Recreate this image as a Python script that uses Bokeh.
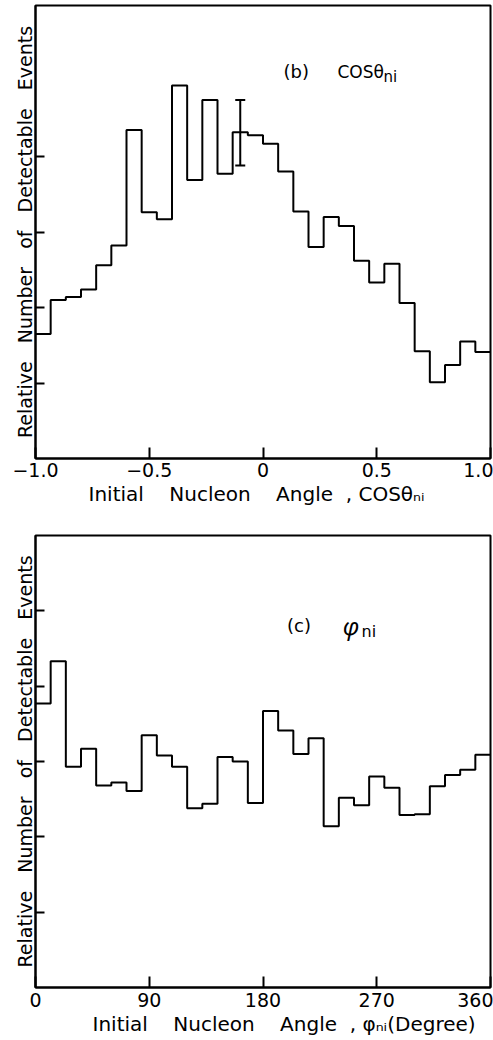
import numpy as np
from bokeh.plotting import figure
from bokeh.layouts import column
from bokeh.models import Range1d, FixedTicker, Label, Whisker, TeeHead, ColumnDataSource, Title
from bokeh.embed import file_html
from bokeh.resources import INLINE

# ---------------- data ----------------
# (b) cos(theta_ni): 30 bins from -1 to 1
cos_edges = np.linspace(-1.0, 1.0, 31)
cos_counts = [1.65, 2.10, 2.14, 2.24, 2.56, 2.82, 4.35, 3.26, 3.17, 4.94,
              3.69, 4.75, 3.77, 4.32, 4.28, 4.17, 3.80, 3.27, 2.80, 3.20,
              3.08, 2.62, 2.33, 2.58, 2.06, 1.42, 1.01, 1.24, 1.55, 1.41]
cos_err_x = [-0.1]
cos_err_lo = [3.88]
cos_err_hi = [4.75]
cos_ticks = [-1.0, -0.5, 0.0, 0.5, 1.0]
cos_tick_labels = ["\u22121.0", "\u22120.5", "0", "0.5", "1.0"]
cos_yticks = [1, 2, 3, 4]

# (c) phi_ni: 30 bins of 12 degrees from 0 to 360
phi_edges = np.linspace(0.0, 360.0, 31)
phi_counts = [3.77, 4.33, 2.93, 3.17, 2.68, 2.72, 2.61, 3.35, 3.08, 2.93,
              2.38, 2.44, 3.06, 3.00, 2.45, 3.67, 3.41, 3.10, 3.31, 2.14,
              2.52, 2.42, 2.80, 2.65, 2.29, 2.30, 2.67, 2.82, 2.89, 3.09]
phi_ticks = [0, 90, 180, 270, 360]
phi_tick_labels = ["0", "90", "180", "270", "360"]
phi_yticks = [1, 2, 3, 4, 5]

FONT = "DejaVu Sans"
NB = "\u00a0"
YLABEL = (NB * 3).join(["Relative", "Number", "of", "Detectable", "Events"])
XLABEL_B = "Initial" + NB * 4 + "Nucleon" + NB * 4 + "Angle" + NB * 2 + "," + NB + "COS\u03b8\u2099\u1d62"
XLABEL_C = "Initial" + NB * 4 + "Nucleon" + NB * 4 + "Angle" + NB * 2 + "," + NB + "\u03c6\u2099\u1d62(Degree)"


def style(p, xticks, xlabels, yticks):
    p.grid.visible = False
    p.outline_line_color = "black"
    p.outline_line_width = 2
    p.background_fill_color = "white"
    p.border_fill_color = "white"
    for ax in (p.xaxis[0], p.yaxis[0]):
        ax.axis_line_width = 2
        ax.axis_line_color = "black"
        ax.major_tick_line_width = 2
        ax.major_tick_line_color = "black"
        ax.minor_tick_line_color = None
        ax.major_tick_out = 0
        ax.major_label_text_font = FONT
        ax.axis_label_text_font = FONT
        ax.axis_label_text_font_style = "normal"
        ax.major_label_text_color = "black"
        ax.axis_label_text_color = "black"
    xa = p.xaxis[0]
    xa.ticker = FixedTicker(ticks=xticks)
    xa.major_label_overrides = {t: l for t, l in zip(xticks, xlabels)}
    xa.major_tick_in = 11
    xa.major_label_text_font_size = "19px"
    xa.major_label_standoff = 4
    ya = p.yaxis[0]
    ya.ticker = FixedTicker(ticks=yticks)
    ya.major_label_overrides = {t: "" for t in yticks}
    ya.major_tick_in = 9
    ya.major_label_standoff = 0
    ya.axis_label = YLABEL
    ya.axis_label_text_font_size = "19px"
    ya.axis_label_standoff = 0


def lab(p, x, text, size, y=0.0, yoff=0, style="normal", font=FONT):
    p.add_layout(Label(x=x, y=y, y_offset=yoff, text=text, text_font=font,
                       text_font_size=size, text_font_style=style,
                       text_color="black", text_baseline="alphabetic",
                       text_align="left"))


def xtitle(p, text, offset):
    p.add_layout(Title(text=text, align="left", offset=offset, standoff=0,
                       text_font=FONT, text_font_size="20px",
                       text_font_style="normal", text_color="black"), "below")


# ---------------- panel (b) ----------------
p1 = figure(width=493, height=510, x_range=Range1d(-1.0, 1.0), y_range=Range1d(0, 6),
            output_backend="svg", toolbar_location=None,
            min_border_left=35, min_border_right=3, min_border_top=5, min_border_bottom=52)
style(p1, cos_ticks, cos_tick_labels, cos_yticks)
p1.step(x=list(cos_edges), y=cos_counts + [cos_counts[-1]], mode="after",
        line_color="black", line_width=2)
err_src = ColumnDataSource(dict(x=cos_err_x, lo=cos_err_lo, hi=cos_err_hi))
p1.add_layout(Whisker(source=err_src, base="x", lower="lo", upper="hi",
                      dimension="height", line_color="black", line_width=2,
                      upper_head=TeeHead(size=10, line_width=2, line_color="black"),
                      lower_head=TeeHead(size=10, line_width=2, line_color="black")))
lab(p1, 0.09, "(b)", "18px", y=5.12)
lab(p1, 0.327, "COS\u03b8", "17px", y=5.12)
lab(p1, 0.53, "ni", "15px", y=5.12, yoff=-5)
xtitle(p1, XLABEL_B, 53)

# ---------------- panel (c) ----------------
p2 = figure(width=493, height=530, x_range=Range1d(0, 360), y_range=Range1d(0, 6),
            output_backend="svg", toolbar_location=None,
            min_border_left=35, min_border_right=3, min_border_top=25, min_border_bottom=53)
style(p2, phi_ticks, phi_tick_labels, phi_yticks)
p2.xaxis[0].major_label_standoff = 5
p2.step(x=list(phi_edges), y=phi_counts + [phi_counts[-1]], mode="after",
        line_color="black", line_width=2)
lab(p2, 199, "(c)", "18px", y=4.80)
lab(p2, 243, "\u03c6", "24px", y=4.80, style="italic", font="Noto Sans")
lab(p2, 258, "ni", "16px", y=4.80, yoff=-6)
xtitle(p2, XLABEL_C, 57)

layout = column(p1, p2)
open("out.html", "w").write(file_html(layout, INLINE))
